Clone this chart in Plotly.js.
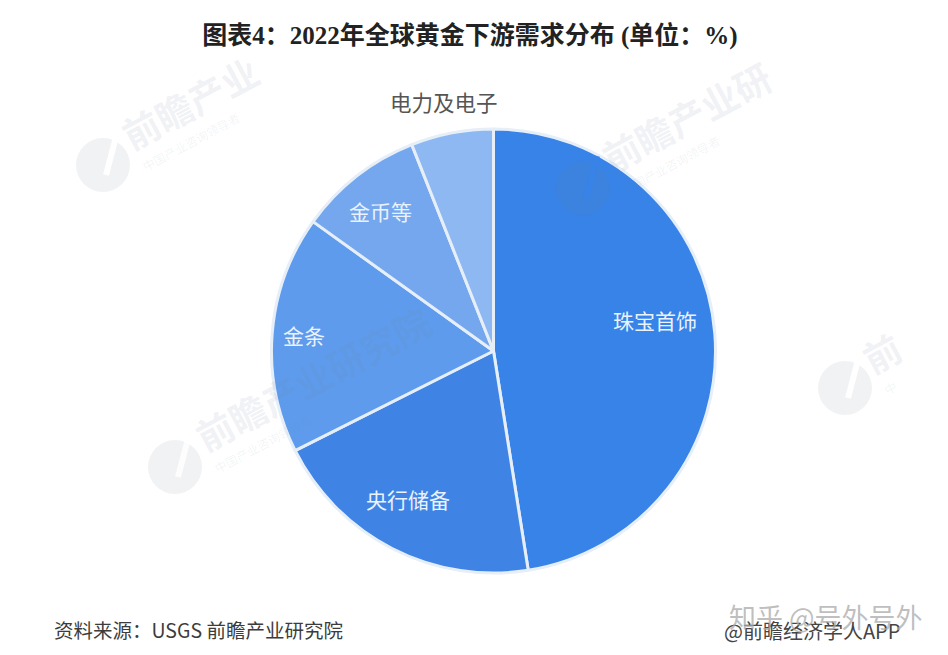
<!DOCTYPE html>
<html><head><meta charset="utf-8">
<script src="https://cdn.plot.ly/plotly-3.0.1.min.js"></script>
<style>html,body{margin:0;padding:0;background:#fff}#c{width:948px;height:655px}</style>
</head><body><div id="c"></div>
<script>
const categories = ["珠宝首饰","央行储备","金条","金币等","电力及电子"];
const shares = [47.5,20.1,17.3,9.1,6.0];
const sliceColors = ["#3783E8","#3F84E5","#5E9BEC","#74A7EE","#8DB8F2"];
const titleText = "图表4：2022年全球黄金下游需求分布 (单位：%)";
const sourceText = "资料来源：USGS 前瞻产业研究院";
const creditText = "@前瞻经济学人APP";
const zhihuText = "知乎 @号外号外";
const wmMainTexts = ["前瞻产业","前瞻产业研","前","前瞻产业研究院"];
const wmSubTexts = ["中国产业咨询领导者","中国产业咨询领导者","中","中国产业咨询领导者"];
const W=948,H=655;
const CJK='"Noto Sans CJK SC","Noto Sans",sans-serif';
const px=x=>x/W, py=y=>1-y/H;
function note(text,x,y,size,color,extra){
  return Object.assign({text,x:px(x),y:py(y),xref:'paper',yref:'paper',showarrow:false,
    xanchor:'center',yanchor:'middle',font:{family:CJK,size,color}},extra||{});
}
const marks=[[103,165],[583,188],[845,388],[175,467]];
const gapColors=['#ffffff',sliceColors[0],'#ffffff','rgba(255,255,255,0.85)'];
const annotations=[
  note(categories[0],655,320,21,'#eaf2fd'),
  note(categories[1],408,499,21,'#eaf2fd'),
  note(categories[2],304,335,21,'#eaf2fd'),
  note(categories[3],380,211,21,'#eaf2fd'),
  note(categories[4],444,101,21.5,'#555555'),
  note(sourceText,198,629,19.5,'#3c3c3c'),
  note(creditText,812,630,20,'#444444'),
  note(zhihuText,826,616,27,'rgba(170,170,170,0.75)')
];
const shapes=[];
const ang=-28, c=Math.cos(28*Math.PI/180), s=Math.sin(28*Math.PI/180);
marks.forEach(([x,y],i)=>{
  const n=wmMainTexts[i].length, L=38*n/2, sn=wmSubTexts[i].length, SL=12*sn/2;
  const wmMainFont={family:CJK,size:37,color:'rgba(110,125,150,0.10)',weight:'bold'};
  annotations.push(note(wmMainTexts[i],x+20+L*c,y-27-L*s,37,wmMainFont.color,{textangle:ang,font:wmMainFont}));
  annotations.push(note(wmSubTexts[i],x+40+SL*c,y+2-SL*s,12,'rgba(110,125,150,0.09)',{textangle:ang}));
  shapes.push({type:'circle',xref:'paper',yref:'paper',x0:px(x-27),x1:px(x+27),y0:py(y+27),y1:py(y-27),
    fillcolor:'rgba(110,125,150,0.10)',line:{width:0},layer:'above'});
  shapes.push({type:'line',xref:'paper',yref:'paper',x0:px(x+14),x1:px(x+3),y0:py(y-32),y1:py(y+10),
    line:{color:gapColors[i],width:6},layer:'above'});
});
const trace={type:'pie',labels:categories,values:shares,sort:false,direction:'clockwise',rotation:0,
  marker:{colors:sliceColors,line:{color:'#E6EEF8',width:3}},textinfo:'none',hoverinfo:'label+percent',
  domain:{x:[px(271),px(716)],y:[py(573),py(129)]},showlegend:false};
const layout={width:W,height:H,margin:{l:0,r:0,t:0,b:0},paper_bgcolor:'#fff',showlegend:false,
  title:{text:titleText,x:470/W,xanchor:'center',y:py(35),yanchor:'middle',
    font:{family:'"Liberation Serif","Noto Sans CJK SC",serif',size:25,color:'#222222',weight:'bold'}},
  annotations,shapes};
Plotly.newPlot('c',[trace],layout,{displayModeBar:false,staticPlot:true});
</script></body></html>
